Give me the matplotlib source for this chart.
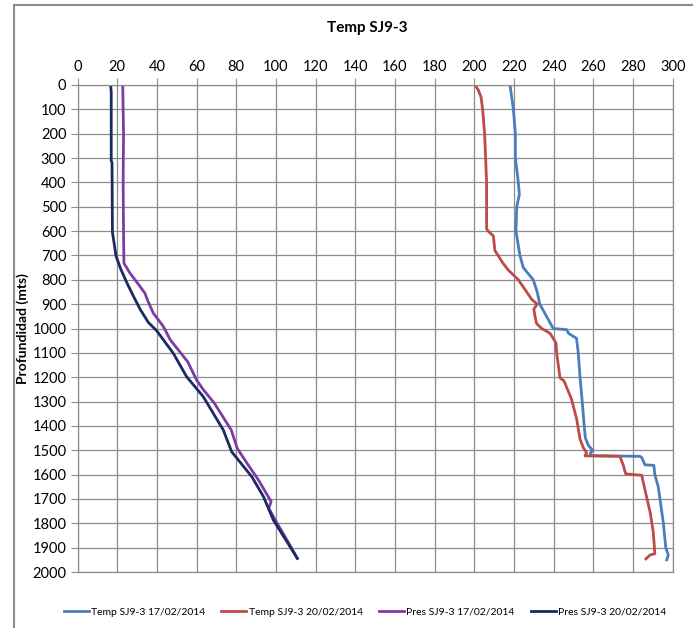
import matplotlib
matplotlib.use("Agg")
import matplotlib.pyplot as plt
from matplotlib.patches import Rectangle

plt.rcParams['font.family'] = ['Lato', 'DejaVu Sans']

# Temp SJ9-3 17/02/2014
depth_t17 = [0, 100, 200, 300, 400, 450, 500, 600, 700, 750, 800, 850, 900, 1000,
             1005, 1020, 1040, 1100, 1200, 1300, 1400, 1450, 1480, 1500, 1512,
             1522, 1525, 1530, 1560, 1562, 1600, 1650, 1700, 1800, 1900, 1930, 1950]
temp_t17 = [218.0, 219.7, 220.7, 220.7, 222.2, 222.7, 221.4, 221.0, 223.0, 224.7,
            229.7, 231.7, 233.0, 239.8, 246.6, 247.5, 251.5, 252.4, 253.3, 254.4,
            255.4, 256.0, 257.5, 259.7, 258.5, 259.0, 283.5, 284.4, 286.0, 290.5,
            291.0, 292.7, 293.6, 295.3, 296.5, 297.8, 297.0]

# Temp SJ9-3 20/02/2014
depth_t20 = [0, 20, 50, 100, 200, 300, 400, 500, 590, 600, 620, 680, 700, 730, 760,
             780, 800, 850, 880, 900, 920, 950, 980, 1000, 1020, 1060, 1100, 1203,
             1215, 1290, 1372, 1455, 1490, 1510, 1523, 1525, 1562, 1597, 1603, 1644,
             1754, 1836, 1925, 1930, 1946]
temp_t20 = [200.3, 202.0, 203.4, 204.2, 205.2, 205.7, 206.2, 206.2, 206.2, 207.0,
            209.6, 210.4, 212.0, 214.3, 217.1, 219.7, 222.2, 226.4, 228.9, 231.7,
            230.0, 230.6, 231.4, 234.0, 238.2, 241.2, 241.5, 243.2, 245.2, 249.0,
            251.6, 253.3, 255.0, 256.6, 255.8, 273.4, 275.1, 276.3, 284.4, 285.5,
            288.6, 290.2, 291.0, 288.6, 286.5]

# Pres SJ9-3 17/02/2014
depth_p17 = [0, 200, 400, 600, 732, 773, 800, 855, 882, 937, 992, 1047, 1136, 1211,
             1252, 1307, 1417, 1492, 1554, 1622, 1711, 1738, 1800, 1869, 1944]
pres_p17 = [22.8, 23.2, 23.0, 23.2, 23.4, 26.5, 29.0, 34.0, 35.2, 38.2, 43.3, 46.8,
            55.5, 60.0, 63.5, 69.0, 77.5, 80.5, 85.5, 91.2, 97.6, 96.4, 100.6, 105.6,
            110.8]

# Pres SJ9-3 20/02/2014
depth_p20 = [0, 30, 310, 320, 605, 647, 702, 756, 811, 866, 920, 975, 1009, 1102,
             1198, 1280, 1417, 1506, 1608, 1690, 1786, 1841, 1944]
pres_p20 = [16.7, 17.0, 17.0, 17.4, 17.6, 18.4, 19.4, 21.8, 24.8, 28.1, 31.5, 35.7,
            39.9, 48.3, 55.0, 63.4, 73.5, 77.7, 87.8, 93.7, 98.7, 102.9, 110.8]

series = [
    (temp_t17, depth_t17, '#4a7ebb', 'Temp SJ9-3 17/02/2014'),
    (temp_t20, depth_t20, '#be4b48', 'Temp SJ9-3 20/02/2014'),
    (pres_p17, depth_p17, '#7d3ca3', 'Pres SJ9-3 17/02/2014'),
    (pres_p20, depth_p20, '#1c2b5e', 'Pres SJ9-3 20/02/2014'),
]

fig = plt.figure(figsize=(6.93, 6.28), dpi=100)
ax = fig.add_axes([77.5 / 693, 1 - 572 / 628, (672.7 - 77.5) / 693, (572 - 85) / 628])

for x, y, c, lab in series:
    ax.plot(x, y, color=c, lw=2.0, label=lab, solid_joinstyle='round')

ax.set_xlim(0, 300)
ax.set_ylim(2000, 0)
ax.set_xticks(range(0, 301, 20))
ax.set_yticks(range(0, 2001, 100))
ax.xaxis.tick_top()
ax.tick_params(axis='both', labelsize=10.5, length=5, color='#8c8c8c', pad=3)
ax.grid(True, color='#8c8c8c', lw=0.9)
ax.set_axisbelow(True)
for s in ax.spines.values():
    s.set_color('#8c8c8c')
    s.set_linewidth(0.9)

ax.set_ylabel('Profundidad (mts)', fontsize=10, fontweight='bold', labelpad=2)
fig.text(367 / 693, 1 - 28 / 628, 'Temp SJ9-3', ha='center', va='center',
         fontsize=11, fontweight='bold')

fig.legend(loc='center', bbox_to_anchor=(365 / 693, 1 - 612 / 628), ncol=4,
           frameon=False, fontsize=7.5, handlelength=2.4, handletextpad=0.2,
           columnspacing=1.6)

fig.patches.append(Rectangle((14 / 693, -0.1), 1.0, 1 - 5 / 628 + 0.1,
                             transform=fig.transFigure, fill=False,
                             edgecolor='#8c8c8c', lw=1.5, clip_on=False))

fig.savefig('out.png', dpi=100)
